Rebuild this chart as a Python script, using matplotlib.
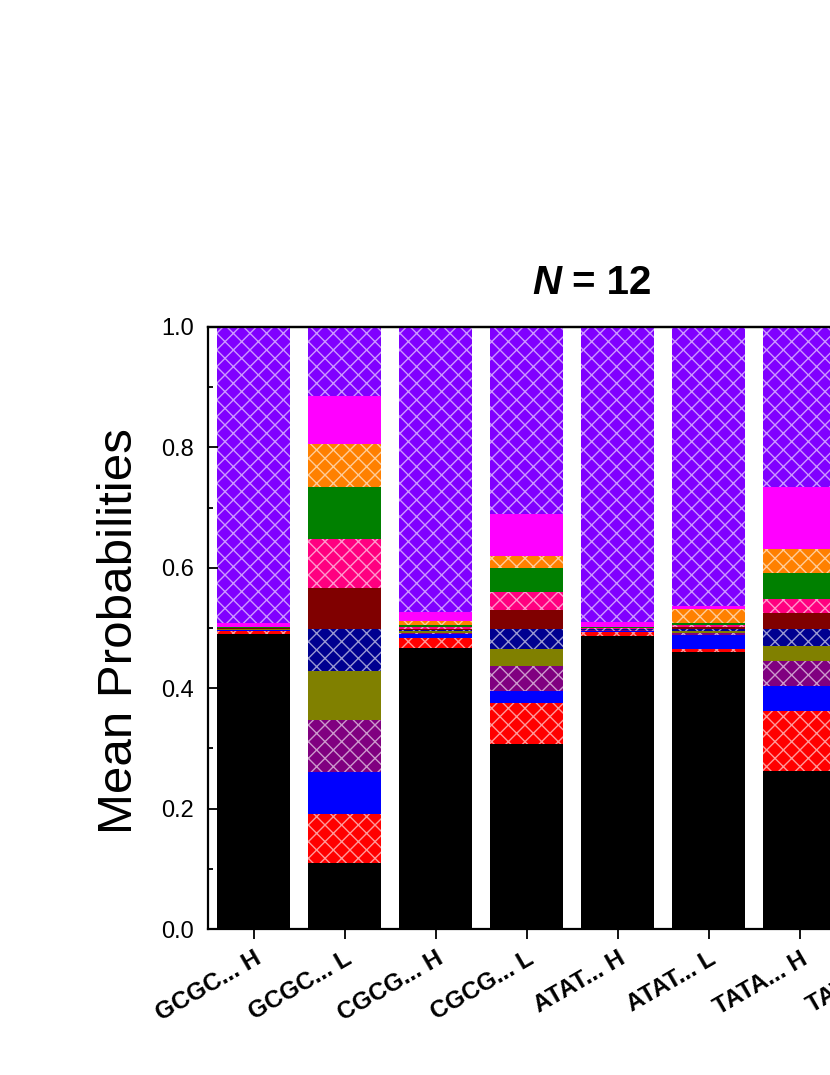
import matplotlib
matplotlib.use("Agg")
import matplotlib.pyplot as plt
import numpy as np

plt.rcParams['font.family'] = ['Liberation Sans', 'DejaVu Sans']
plt.rcParams['hatch.linewidth'] = 1.0

# ---- data ----
categories = ["GCGC... H", "GCGC... L", "CGCG... H", "CGCG... L",
              "ATAT... H", "ATAT... L", "TATA... H", "TATA... L"]

# layer values for the visible bars (bottom to top)
black   = [0.4895, 0.109,  0.467,  0.308,  0.4867, 0.4595, 0.2625]
red     = [0.0055, 0.0825, 0.0166, 0.068,  0.0072, 0.005,  0.1001]
blue    = [0.001,  0.0695, 0.0066, 0.019,  0.001,  0.0238, 0.0414]
purple  = [0.001,  0.087,  0.002,  0.042,  0.001,  0.0028, 0.042]
olive   = [0.001,  0.0806, 0.002,  0.028,  0.001,  0.0033, 0.0246]
navy    = [0.0005, 0.0694, 0.002,  0.033,  0.001,  0.0033, 0.0274]
maroon  = [0.001,  0.069,  0.002,  0.032,  0.001,  0.0033, 0.027]
pink    = [0.0005, 0.081,  0.003,  0.029,  0.001,  0.0033, 0.024]
green   = [0.001,  0.087,  0.003,  0.041,  0.001,  0.0033, 0.042]
orange  = [0.001,  0.070,  0.008,  0.0196, 0.001,  0.0238, 0.041]
magenta = [0.006,  0.080,  0.015,  0.0694, 0.0083, 0.005,  0.1015]
violet  = [0.492,  0.115,  0.471,  0.311,  0.4898, 0.4636, 0.2665]

layers = [black, red, blue, purple, olive, navy, maroon, pink,
          green, orange, magenta, violet]
colors = ['#000000', '#FF0000', '#0000FF', '#800080', '#808000', '#000090',
          '#800000', '#FF0080', '#008000', '#FF8000', '#FF00FF', '#8000FF']
hatched = [False, True, False, True, False, True, False, True,
           False, True, False, True]

# ---- figure ----
fig = plt.figure(figsize=(8.3, 10.75), dpi=100)
ax = fig.add_axes([208/830, 1-929/1075, 728/830, (929-327)/1075])

xpos = np.arange(len(black))
bottom = np.zeros(len(black))
for vals, c, h in zip(layers, colors, hatched):
    vals = np.array(vals)
    if h:
        ax.bar(xpos, vals, width=0.81, bottom=bottom, color=c,
               edgecolor=(1, 1, 1, 0.6), linewidth=0, hatch='xx')
    else:
        ax.bar(xpos, vals, width=0.81, bottom=bottom, color=c, linewidth=0)
    bottom += vals

ax.set_xlim(-0.5, len(categories) - 0.5)
ax.set_ylim(0, 1.0)

ticks = np.arange(len(categories))
ax.set_xticks(ticks)
ax.set_xticklabels(categories, rotation=30, ha='right', va='top',
                   rotation_mode='anchor', fontsize=17.5, fontweight='bold')
ax.set_yticks(np.arange(0, 1.01, 0.2))
ax.set_yticklabels([f"{v:.1f}" for v in np.arange(0, 1.01, 0.2)], fontsize=17)
ax.set_yticks(np.arange(0.1, 1.0, 0.2), minor=True)

ax.tick_params(axis='x', which='major', direction='out', length=7, width=1.3,
               top=False, pad=6)
ax.tick_params(axis='y', which='major', direction='in', length=7, width=1.3, pad=10)
ax.tick_params(axis='y', which='minor', direction='in', length=3.5, width=1.3)

top = ax.secondary_xaxis('top')
top.set_xticks(ticks)
top.set_xticklabels([])
top.tick_params(direction='in', length=7, width=1.3)
top.spines['top'].set_linewidth(1.6)

for s in ['left', 'bottom', 'top', 'right']:
    ax.spines[s].set_linewidth(1.6)

fig.text(119/830, 1-631/1075, "Mean Probabilities", rotation=90,
         ha='center', va='center', fontsize=35.5)

t1 = fig.text(532/830, 1-294/1075, "N", fontsize=29, fontweight='bold',
              fontstyle='italic', ha='left', va='baseline')
ax.annotate(" = 12", xy=(1, 0), xycoords=t1, fontsize=29, fontweight='bold',
            ha='left', va='bottom', annotation_clip=False)

fig.savefig("out.png", dpi=100)
